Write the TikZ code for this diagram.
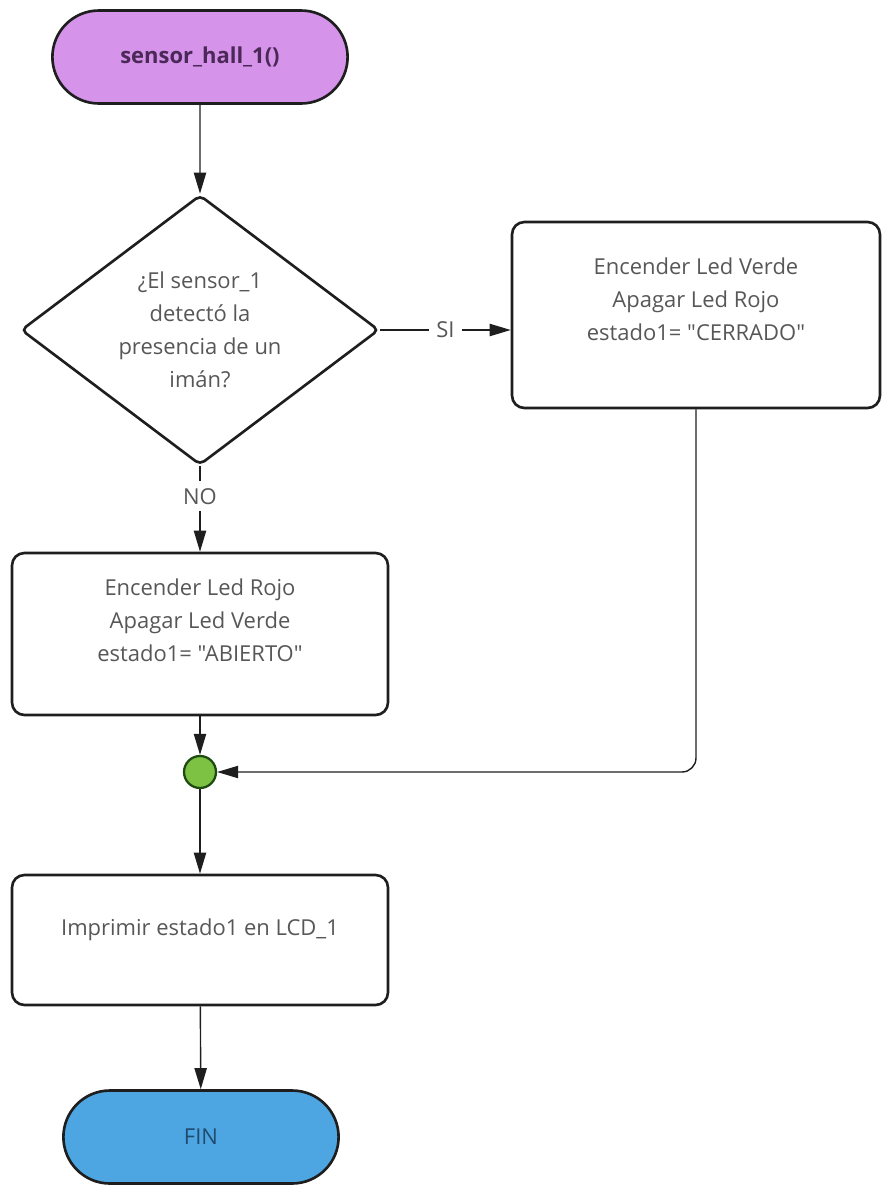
\documentclass[tikz,border=0pt]{standalone}
\usepackage{fontspec}
\setmainfont{Open Sans}[Ligatures=TeXOff]
\usetikzlibrary{
    shapes.geometric,
    shapes.misc,
    arrows.meta,
    positioning
}

\definecolor{startfill}{HTML}{D593EA}
\definecolor{starttext}{HTML}{4A2857}
\definecolor{endfill}{HTML}{4DA6E2}
\definecolor{endtext}{HTML}{1F4B6E}
\definecolor{joinfill}{HTML}{7DC243}
\definecolor{joindraw}{HTML}{1F4A12}
\definecolor{txtgray}{HTML}{575757}
\definecolor{edgegray}{HTML}{1E1E1E}

\newcommand{\flowfont}{\fontsize{12.5}{18.8}\selectfont}

\tikzset{
    >={Triangle[length=12pt,width=7pt]},
    term/.style={rounded rectangle, draw=edgegray, line width=1.5pt,
        minimum height=1.86cm, font=\flowfont},
    decision/.style={diamond, draw=edgegray, line width=1.5pt, rounded corners=3pt,
        aspect=1.33, inner sep=0pt, minimum width=7.16cm, minimum height=5.4cm,
        align=center, text=txtgray, font=\flowfont},
    proc/.style={rectangle, draw=edgegray, line width=1.5pt, rounded corners=7pt},
    txt/.style={align=center, text=txtgray, font=\flowfont},
    joint/.style={circle, draw=joindraw, fill=joinfill, line width=1.3pt,
        minimum size=0.64cm, inner sep=0pt},
    tag/.style={fill=white, text=txtgray, font=\flowfont, inner sep=4pt},
    flow/.style={->, draw=edgegray, line width=0.8pt}
}

\begin{document}
\begin{tikzpicture}[x=0.02cm, y=-0.02cm]
    \useasboundingbox (0,0) rectangle (882,1191);

    \node[term, fill=startfill, text=starttext, minimum width=6.14cm] (start) at (200,57) {\bfseries sensor\_hall\_1()};
    \node[decision] (sensor) at (200,330) {¿El sensor\_1\\detectó la\\presencia de un\\imán?};
    \node[proc, minimum width=7.36cm, minimum height=3.72cm,
        label={[txt, yshift=0.32cm]center:Encender Led Verde\\Apagar Led Rojo\\estado1= "CERRADO"}] (verde) at (696,315) {};
    \node[proc, minimum width=7.52cm, minimum height=3.24cm,
        label={[txt, yshift=0.28cm]center:Encender Led Rojo\\Apagar Led Verde\\estado1= "ABIERTO"}] (rojo) at (200,634) {};
    \node[joint] (join) at (200,772) {};
    \node[proc, minimum width=7.52cm, minimum height=2.6cm,
        label={[txt, yshift=0.2cm]center:Imprimir estado1 en LCD\_1}] (imprimir) at (200,940) {};
    \node[term, fill=endfill, text=endtext, minimum width=5.74cm] (fin) at (201,1137) {FIN};

    \draw
    (start) edge[flow] (sensor)
    (sensor.east) edge[flow] node[tag] {SI} (sensor.east -| verde.west)
    (sensor) edge[flow] node[tag, pos=0.35] {NO} (rojo)
    (rojo) edge[flow] (join)
    (join) edge[flow] (imprimir)
    (imprimir) edge[flow] (fin);
    \draw[flow, rounded corners=8pt] (verde) |- (join);
\end{tikzpicture}
\end{document}
